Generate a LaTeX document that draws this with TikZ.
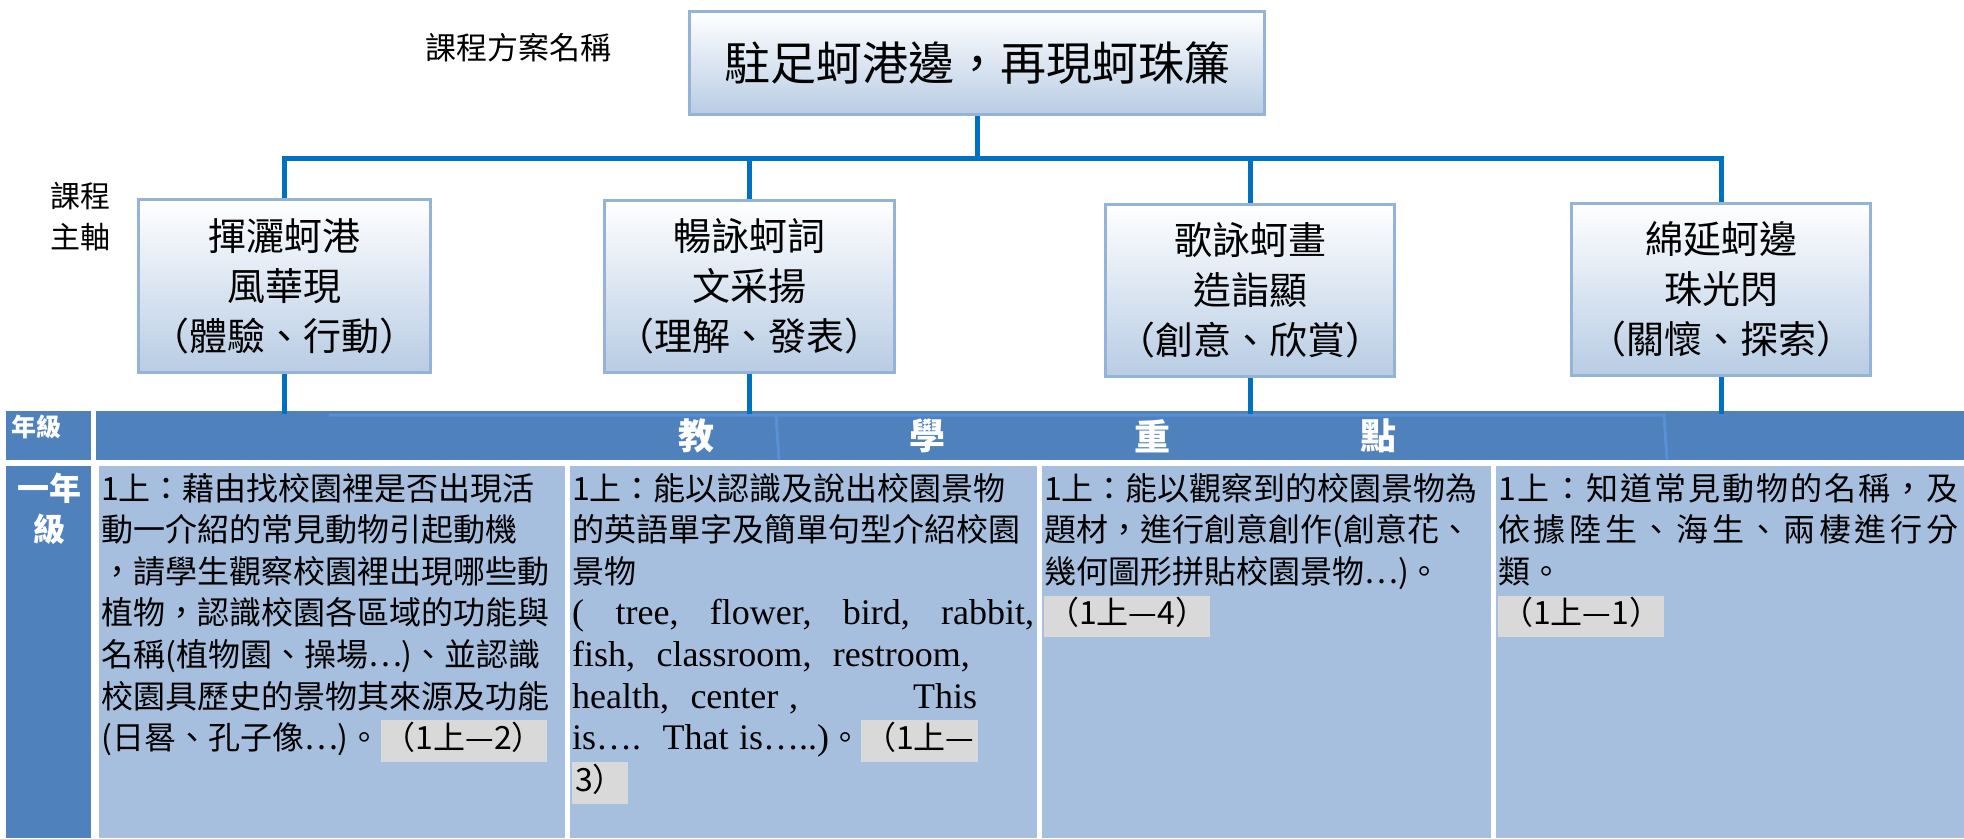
\documentclass[tikz,border=0pt]{standalone}
\usepackage{fontspec}
\setmainfont{Liberation Serif}
\newfontfamily\cjk{Noto Sans CJK TC}
\definecolor{lineblue}{RGB}{0,112,192}
\definecolor{boxedge}{RGB}{149,179,215}
\definecolor{boxbot}{RGB}{184,204,228}
\definecolor{hdrblue}{RGB}{79,129,189}
\definecolor{cellblue}{RGB}{167,191,222}
\definecolor{ghostblue}{RGB}{88,144,214}
\definecolor{hlgray}{RGB}{217,217,217}
\newcommand\hlbox[1]{{\fboxsep=0pt\colorbox{hlgray}{\strut\hspace{3pt}#1\hspace{3pt}}}}
\newcommand\eng[1]{{\rmfamily\fontsize{36}{41.6}\selectfont #1}}

\begin{document}
\begin{tikzpicture}[x=1pt,y=-1pt,
    conn/.style={draw=lineblue, line width=5pt},
    axisbox/.style={draw=boxedge, line width=3pt, top color=white, bottom color=boxbot, align=center, inner sep=0pt, font=\cjk\fontsize{38}{50}\selectfont},
    band/.style={fill=hdrblue, inner sep=0pt},
    hdrtext/.style={text=white, inner sep=0pt, font=\cjk\bfseries\fontsize{36}{40}\selectfont},
    body/.style={inner sep=0pt, align=left, anchor=base west, font=\cjk\fontsize{32}{41.6}\selectfont},
    ghost/.style={draw=ghostblue, line width=3pt}]
        \useasboundingbox (0,0) rectangle (1964,838);

        % title and axes
        \node[axisbox, minimum width=575pt, minimum height=103pt, font=\cjk\fontsize{46}{55}\selectfont] (top) at (977,63) {駐足蚵港邊，再現蚵珠簾};
        \node[font=\cjk\fontsize{31}{40}\selectfont] (plan) at (518,48) {課程方案名稱};
        \node[align=center, font=\cjk\fontsize{30}{41}\selectfont] (axis) at (80,217) {課程\\主軸};

        \node[axisbox, minimum width=292pt, minimum height=173pt] (b1) at (284,286) {揮灑蚵港\\風華現\\（體驗、行動）};
        \node[axisbox, minimum width=290pt, minimum height=172pt] (b2) at (749,286) {暢詠蚵詞\\文采揚\\（理解、發表）};
        \node[axisbox, minimum width=289pt, minimum height=172pt] (b3) at (1250,290) {歌詠蚵畫\\造詣顯\\（創意、欣賞）};
        \node[axisbox, minimum width=299pt, minimum height=172pt] (b4) at (1721,289) {綿延蚵邊\\珠光閃\\（關懷、探索）};

        \coordinate (bar) at (977,158);
        \draw[conn] (top.south) -- (bar);
        \draw[conn] (b1.north) |- (bar) -| (b4.north);
        \draw[conn] (b2.north) -- (b2.north |- bar);
        \draw[conn] (b3.north) -- (b3.north |- bar);

        % header band
        \fill[hdrblue] (6,411) rectangle (91,460);
        \node[band, minimum width=1868pt, minimum height=49pt] (band) at (1030,435.5) {};
        \node[text=white, font=\cjk\bfseries\fontsize{25}{28}\selectfont, inner sep=0pt] (grade) at (37,427) {年級};
        \draw[ghost] (329,415) -- (1664,415) -- (1667,460);
        \draw[ghost] (776,415) -- (779,460);
        \node[hdrtext] (h1) at (696,436) {教};
        \node[hdrtext] (h2) at (927,436) {學};
        \node[hdrtext] (h3) at (1152,436) {重};
        \node[hdrtext] (h4) at (1378,436) {點};

        \draw[conn] (b1.south) -- ([yshift=-3pt]b1.south |- band.north);
        \draw[conn] (b2.south) -- ([yshift=-3pt]b2.south |- band.north);
        \draw[conn] (b3.south) -- ([yshift=-3pt]b3.south |- band.north);
        \draw[conn] (b4.south) -- ([yshift=-3pt]b4.south |- band.north);

        % first grade row
        \fill[hdrblue] (6,466) rectangle (91,838);
        \fill[cellblue] (99,466) rectangle (565,838);
        \fill[cellblue] (570,466) rectangle (1037,838);
        \fill[cellblue] (1042,466) rectangle (1491,838);
        \fill[cellblue] (1496,466) rectangle (1964,838);

        \node[body, text width=85pt, align=center, text=white, font=\cjk\bfseries\fontsize{32}{41.6}\selectfont] (g1) at (7,500) {一年\\級};

        \node[body, text width=462pt] (t1) at (101,500) {1上：藉由找校園裡是否出現活\\
            動一介紹的常見動物引起動機\\
            ，請學生觀察校園裡出現哪些動\\
            植物，認識校園各區域的功能與\\
            名稱(植物園、操場…)、並認識\\
            校園具歷史的景物其來源及功能\\
            (日晷、孔子像…)。\hlbox{（1上—2）}};
        \node[body, text width=462pt] (t2) at (572,500) {1上：能以認識及說出校園景物\\
            的英語單字及簡單句型介紹校園\\
            景物\\
            \eng{(\hfill tree,\hfill flower,\hfill bird,\hfill rabbit,}\\
            \eng{fish,\ \ classroom,\ \ restroom,}\\
            \eng{health,\ \ center ,\hspace{115pt}This}\\
            \eng{is….\ \ That is…..)}。\hlbox{（1上—}\\
            \hlbox{3）}};
        \node[body, text width=445pt] (t3) at (1044,500) {1上：能以觀察到的校園景物為\\
            題材，進行創意創作(創意花、\\
            幾何圖形拼貼校園景物…)。\\
            \hlbox{（1上—4）}};
        \node[body, text width=460pt] (t4) at (1498,500) {1\hfill 上\hfill ：\hfill 知\hfill 道\hfill 常\hfill 見\hfill 動\hfill 物\hfill 的\hfill 名\hfill 稱\hfill ，\hfill 及\\
            依\hfill 據\hfill 陸\hfill 生\hfill 、\hfill 海\hfill 生\hfill 、\hfill 兩\hfill 棲\hfill 進\hfill 行\hfill 分\\
            類。\\
            \hlbox{（1上—1）}};
    \end{tikzpicture}
\end{document}
